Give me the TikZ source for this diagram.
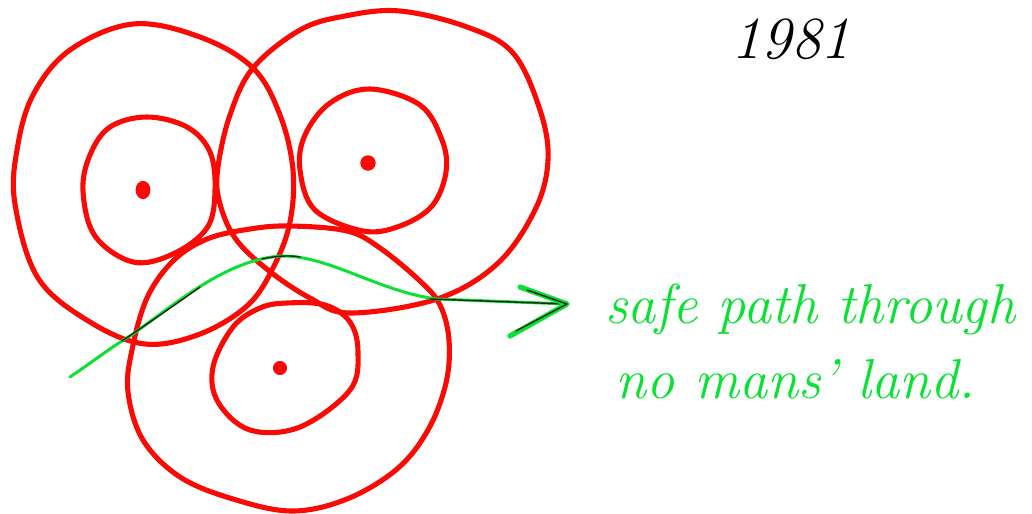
\documentclass[tikz,border=0pt]{standalone}
\usepackage{tikz}
\usetikzlibrary{arrows.meta}
\usepackage{xcolor}
\definecolor{zonered}{RGB}{250,10,5}
\definecolor{safegreen}{RGB}{10,225,50}
\definecolor{inkdark}{RGB}{20,40,20}

\begin{document}
\begin{tikzpicture}[x=0.02cm,y=-0.02cm,line cap=round,line join=round,
  zone/.style={zonered,line width=2.9pt},
  route/.style={safegreen,line width=1.7pt},
  over/.style={inkdark,line width=0.8pt},
  hand/.style={safegreen,font=\fontsize{32}{36}\selectfont\itshape,anchor=base west,inner sep=0pt}]
\useasboundingbox (0,0) rectangle (1032,514);
% outer zones
\draw[zone] plot[smooth cycle,tension=0.6] coordinates {(133,24) (200,37) (253,68) (280,115) (293,170) (290,222) (274,266) (248,305) (200,334) (145,344) (90,322) (38,278) (15,204) (17,150) (33,95) (70,50)};
\draw[zone] plot[smooth cycle,tension=0.6] coordinates {(400,11) (467,27) (513,53) (540,110) (548,160) (535,210) (497,264) (437,299) (350,313) (310,298) (268,270) (235,238) (219,200) (218,167) (230,115) (253,68) (300,30) (345,16)};
\draw[zone] plot[smooth cycle,tension=0.6] coordinates {(290,226) (347,231) (380,248) (420,281) (440,305) (449,340) (446,383) (428,430) (397,469) (347,499) (292,511) (233,499) (180,477) (143,440) (128,392) (132,350) (147,298) (173,261) (207,239) (250,229)};
% inner zones
\draw[zone] plot[smooth cycle,tension=0.6] coordinates {(147,117) (187,127) (210,152) (215,191) (207,228) (173,254) (133,262) (95,236) (83,191) (90,155) (110,127)};
\draw[zone] plot[smooth cycle,tension=0.6] coordinates {(370,89) (420,105) (442,140) (446,172) (432,206) (400,226) (363,231) (315,210) (300,170) (305,135) (330,103)};
\draw[zone] plot[smooth cycle,tension=0.6] coordinates {(287,303) (325,305) (350,322) (358,352) (350,390) (300,427) (250,430) (218,402) (213,367) (233,327) (260,308)};
% posts
\coordinate (p1) at (143,190);
\coordinate (p2) at (368,163);
\coordinate (p3) at (280,368);
\fill[zonered] (p1) ellipse (4.2pt and 5.2pt) (p2) ellipse (4.4pt and 4.4pt) (p3) ellipse (4pt and 4pt);
% the path
\coordinate (start) at (70,377);
\coordinate (tip) at (567,304);
\draw[route] (start) .. controls (95,360) and (110,348) .. (133,334)
  .. controls (180,300) and (230,258) .. (283,256)
  .. controls (330,256) and (380,292) .. (437,299) -- (tip);
\draw[over] (122,341) .. controls (150,322) and (175,305) .. (200,287);
\draw[over] (262,259) .. controls (275,256) and (290,255) .. (300,257);
\draw[over] (430,299) -- (tip);
\draw[route,line width=3pt] (520,287) -- (tip) -- (510,336);
\draw[over] (527,290) -- (tip) -- (516,331);
% labels
\node[hand] (safe) at (605,323) {safe path through};
\node[hand] (land) at (615,398) {no mans' land.};
\node[font=\fontsize{34}{40}\selectfont\itshape,anchor=base] (year) at (791,58) {1981};
\end{tikzpicture}
\end{document}
